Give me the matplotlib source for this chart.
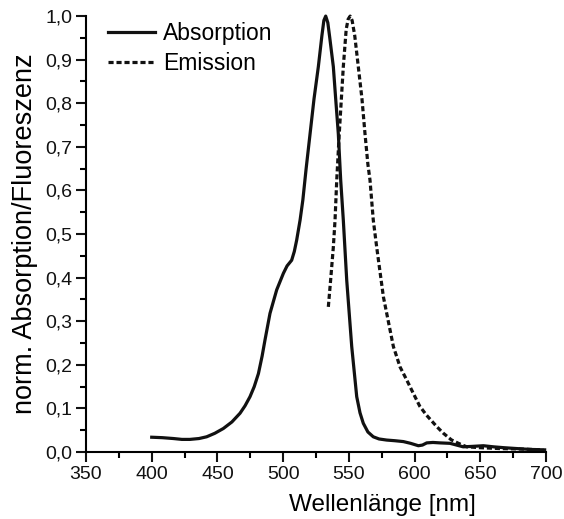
import matplotlib
matplotlib.use('Agg')
import matplotlib.pyplot as plt
from matplotlib.ticker import MultipleLocator, FuncFormatter

plt.rcParams['font.family'] = ['Liberation Sans', 'DejaVu Sans']

# absorption spectrum (normalised)
abs_wl = [400, 408, 416.5, 423, 429, 436, 441.8, 448, 454.5, 461, 467.2, 471,
          474.8, 478, 481.2, 484, 486.2, 490, 495.1, 500.2, 503, 506.5, 508.5,
          510.3, 512.9, 515, 517.5, 520.5, 523.5, 526.8, 529.5, 531, 532.4,
          534, 535.5, 538.2, 540, 542, 543.8, 545.8, 548.4, 552.2, 556, 558.5,
          561, 564.5, 568.6, 573, 578.8, 585, 591.5, 597, 602.9, 606, 609.3,
          614, 619.4, 627, 632, 637, 644, 652.4, 660, 668, 677.8, 688, 699]
abs_val = [0.034, 0.033, 0.031, 0.029, 0.029, 0.031, 0.035, 0.043, 0.054,
           0.069, 0.089, 0.106, 0.127, 0.15, 0.18, 0.22, 0.257, 0.318, 0.372,
           0.41, 0.427, 0.44, 0.46, 0.486, 0.532, 0.578, 0.65, 0.73, 0.81,
           0.884, 0.955, 0.99, 1.0, 0.985, 0.95, 0.884, 0.81, 0.73, 0.624,
           0.532, 0.394, 0.242, 0.127, 0.09, 0.066, 0.046, 0.035, 0.030,
           0.0275, 0.026, 0.024, 0.020, 0.0145, 0.016, 0.021, 0.022, 0.021,
           0.020, 0.016, 0.012, 0.013, 0.0145, 0.012, 0.010, 0.008, 0.006,
           0.005]

# emission spectrum (normalised)
em_wl = [534.4, 536.3, 538.2, 539.5, 540.8, 542.7, 545.8, 548, 549.5, 551,
         552.5, 554.5, 557.2, 560, 562.3, 564.5, 566.1, 568.6, 571.2, 576.3,
         583.9, 589, 594.1, 599, 604, 609, 617, 622, 628, 633.4, 639.7, 650,
         665, 680, 698]
em_val = [0.333, 0.40, 0.47, 0.532, 0.624, 0.73, 0.884, 0.97, 0.993, 1.0,
          0.99, 0.955, 0.884, 0.81, 0.73, 0.66, 0.624, 0.532, 0.47, 0.356,
          0.242, 0.195, 0.165, 0.135, 0.105, 0.085, 0.058, 0.043, 0.028,
          0.020, 0.012, 0.010, 0.008, 0.007, 0.005]

fig = plt.figure(figsize=(5.64, 5.19), dpi=100)
ax = fig.add_axes([0.1525, 0.129, 0.8155, 0.840])

ax.plot(abs_wl, abs_val, color='#111111', lw=2.3, label='Absorption', clip_on=False)
ax.plot(em_wl, em_val, color='#111111', lw=2.3, ls=(0, (1.6, 0.9)), label='Emission', clip_on=False)

ax.set_xlim(350, 700)
ax.set_ylim(0, 1.0)
ax.spines['top'].set_visible(False)
ax.spines['right'].set_visible(False)
ax.spines['left'].set_linewidth(1.5)
ax.spines['bottom'].set_linewidth(1.5)

ax.xaxis.set_major_locator(MultipleLocator(50))
ax.xaxis.set_minor_locator(MultipleLocator(25))
ax.yaxis.set_major_locator(MultipleLocator(0.1))
ax.yaxis.set_minor_locator(MultipleLocator(0.05))
ax.yaxis.set_major_formatter(FuncFormatter(lambda v, p: f'{v:.1f}'.replace('.', ',')))
ax.tick_params(which='major', direction='out', length=7, width=1.5, labelsize=14,
               colors='#111111', pad=3)
ax.tick_params(which='minor', direction='out', length=4, width=1.5)

# x label sits right of centre in the original
ax.set_xlabel('Wellenlänge [nm]', fontsize=17.5, labelpad=8, x=0.645)
ax.set_ylabel('norm. Absorption/Fluoreszenz', fontsize=19.5, labelpad=5)

ax.legend(loc='upper left', bbox_to_anchor=(108 / 564, 1 - 22 / 519),
          bbox_transform=fig.transFigure, borderpad=0, borderaxespad=0,
          frameon=False, fontsize=16.5, handlelength=2.05, handletextpad=0.35,
          labelspacing=0.3)

fig.savefig('out.png', dpi=100)
